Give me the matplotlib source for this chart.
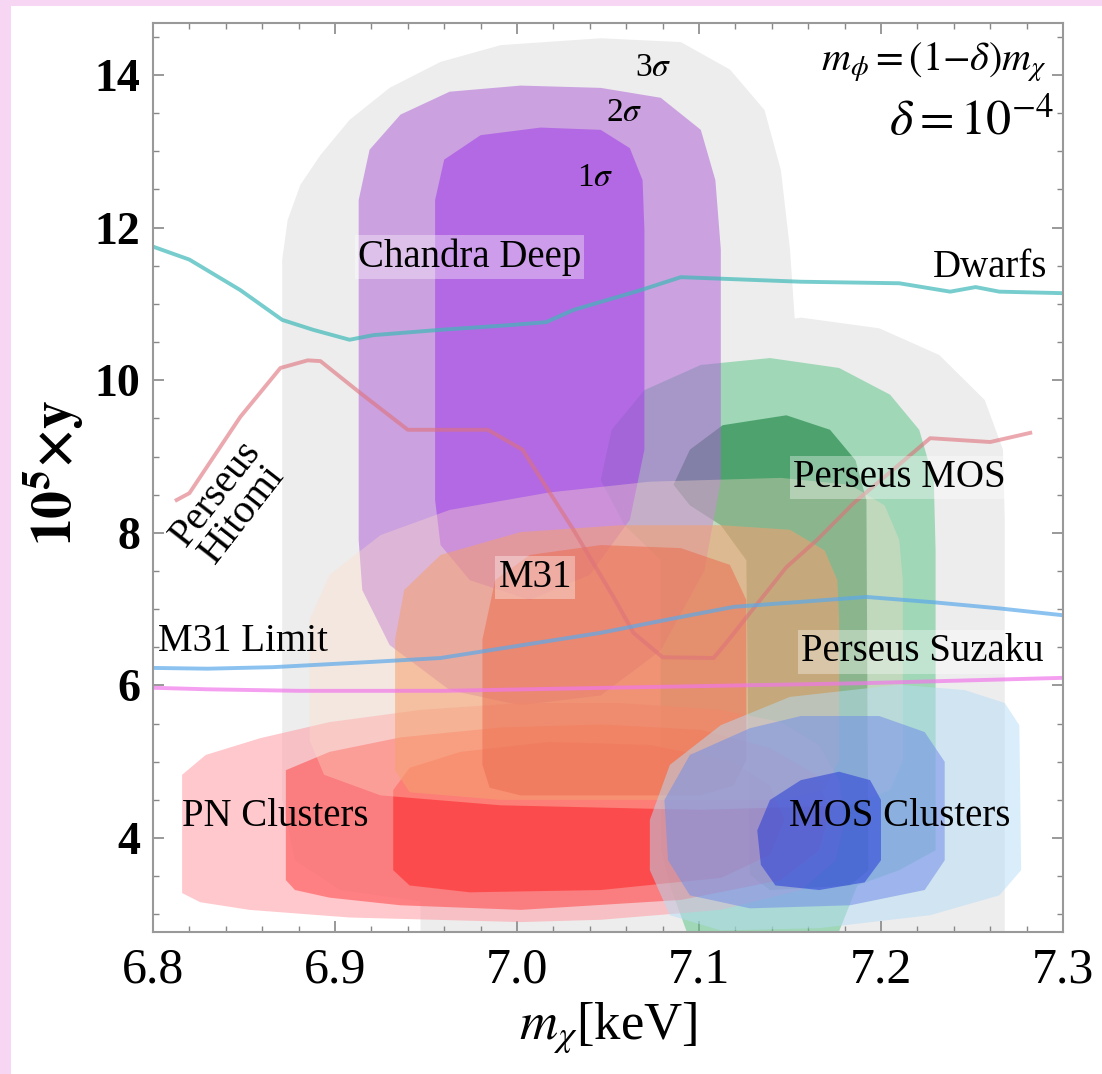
import numpy as np
import matplotlib.pyplot as plt
from matplotlib.patches import Polygon, Rectangle
from matplotlib.ticker import MultipleLocator

plt.rcParams['font.family'] = ['Liberation Serif', 'DejaVu Serif']
plt.rcParams['mathtext.fontset'] = 'stix'

# region outlines: (m_chi [keV], 1e5 * y)
chandra_3s = [(7.046, 14.48), (7.090, 14.43), (7.117, 14.07), (7.136, 13.54), (7.145, 12.75),
              (7.150, 11.71), (7.153, 10.66), (7.156, 8.43), (7.150, 6.46), (7.134, 4.76),
              (7.101, 3.71), (7.046, 3.19), (6.963, 3.12), (6.903, 3.32), (6.878, 3.71),
              (6.871, 4.50), (6.871, 11.58), (6.874, 12.10), (6.881, 12.56), (6.892, 12.95),
              (6.908, 13.41), (6.930, 13.83), (6.958, 14.17), (6.991, 14.39)]
chandra_2s = [(6.913, 12.36), (6.919, 13.02), (6.936, 13.48), (6.963, 13.78), (7.002, 13.86),
              (7.046, 13.83), (7.079, 13.70), (7.101, 13.28), (7.109, 12.62), (7.112, 11.71),
              (7.112, 8.69), (7.103, 7.51), (7.079, 6.46), (7.046, 5.87), (7.002, 5.74),
              (6.963, 5.94), (6.930, 6.53), (6.915, 7.25), (6.913, 7.91)]
chandra_1s = [(6.955, 12.36), (6.960, 12.89), (6.980, 13.21), (7.013, 13.31), (7.046, 13.28),
              (7.062, 13.04), (7.069, 12.62), (7.070, 11.97), (7.070, 9.09), (7.062, 8.17),
              (7.040, 7.45), (7.007, 7.12), (6.974, 7.38), (6.958, 7.84), (6.955, 8.43)]

perseus_3s = [(7.112, 10.66), (7.156, 10.82), (7.199, 10.68), (7.232, 10.33), (7.257, 9.74),
              (7.267, 9.09), (7.268, 8.17), (7.268, 2.40), (6.947, 2.40), (6.947, 5.81),
              (6.958, 7.12), (6.991, 8.69), (7.035, 9.74), (7.073, 10.40)]
perseus_2s = [(7.101, 10.20), (7.139, 10.29), (7.177, 10.16), (7.205, 9.81), (7.221, 9.35),
              (7.229, 8.69), (7.230, 7.77), (7.230, 3.84), (7.210, 3.58), (7.187, 3.38),
              (7.175, 2.66), (7.095, 2.66), (7.084, 3.38), (7.079, 3.84), (7.079, 7.64),
              (7.059, 8.10), (7.046, 8.69), (7.052, 9.35), (7.070, 9.87)]
perseus_1s = [(7.086, 8.63), (7.095, 9.09), (7.113, 9.41), (7.148, 9.54), (7.172, 9.35),
              (7.186, 8.95), (7.192, 8.43), (7.193, 3.58), (7.183, 3.38), (7.139, 3.32),
              (7.128, 3.52), (7.126, 7.64), (7.112, 8.10), (7.095, 8.36)]

m31_3s = [(6.886, 6.86), (6.897, 7.45), (6.925, 7.97), (6.963, 8.30), (7.018, 8.53),
          (7.073, 8.67), (7.145, 8.72), (7.183, 8.63), (7.202, 8.36), (7.210, 7.91),
          (7.212, 7.38), (7.212, 5.02), (7.205, 4.63), (7.183, 4.43), (7.101, 4.37),
          (6.991, 4.43), (6.925, 4.56), (6.894, 4.83), (6.886, 5.28)]
m31_2s = [(6.933, 6.60), (6.938, 7.25), (6.958, 7.71), (7.002, 8.01), (7.057, 8.10),
          (7.112, 8.10), (7.150, 8.04), (7.169, 7.77), (7.176, 7.38), (7.177, 6.86),
          (7.177, 5.02), (7.169, 4.63), (7.145, 4.50), (6.991, 4.50), (6.941, 4.60),
          (6.933, 4.89)]
m31_1s = [(6.981, 6.60), (6.988, 7.38), (7.007, 7.71), (7.046, 7.84), (7.090, 7.80),
          (7.117, 7.58), (7.126, 7.12), (7.126, 5.02), (7.119, 4.69), (7.101, 4.56),
          (7.002, 4.56), (6.985, 4.66), (6.981, 4.96)]

pn_3s = [(6.816, 4.83), (6.829, 5.09), (6.859, 5.31), (6.897, 5.52), (6.947, 5.68),
         (7.002, 5.77), (7.057, 5.77), (7.112, 5.68), (7.145, 5.52), (7.166, 5.22),
         (7.177, 4.76), (7.180, 4.24), (7.175, 3.71), (7.156, 3.32), (7.112, 3.06),
         (7.046, 2.93), (7.002, 2.90), (6.908, 2.96), (6.853, 3.06), (6.826, 3.16),
         (6.816, 3.28)]
pn_2s = [(6.873, 4.89), (6.897, 5.13), (6.936, 5.32), (6.991, 5.45), (7.046, 5.49),
         (7.101, 5.42), (7.139, 5.18), (7.164, 4.83), (7.172, 4.37), (7.166, 3.84),
         (7.145, 3.45), (7.090, 3.19), (7.002, 3.06), (6.936, 3.12), (6.897, 3.22),
         (6.878, 3.32), (6.873, 3.45)]
pn_1s = [(6.932, 4.63), (6.941, 4.92), (6.969, 5.13), (7.018, 5.26), (7.073, 5.22),
         (7.117, 5.02), (7.139, 4.69), (7.147, 4.24), (7.139, 3.78), (7.112, 3.48),
         (7.046, 3.32), (6.974, 3.29), (6.941, 3.38), (6.932, 3.58)]

mos_3s = [(7.073, 4.24), (7.084, 4.96), (7.112, 5.48), (7.150, 5.85), (7.210, 6.01),
          (7.246, 5.94), (7.268, 5.77), (7.276, 5.48), (7.277, 3.58), (7.265, 3.25),
          (7.227, 2.99), (7.166, 2.82), (7.112, 2.79), (7.084, 2.99), (7.073, 3.58)]
mos_2s = [(7.081, 4.50), (7.095, 5.09), (7.128, 5.44), (7.156, 5.60), (7.199, 5.60),
          (7.224, 5.39), (7.235, 5.00), (7.235, 3.71), (7.224, 3.32), (7.183, 3.12),
          (7.128, 3.08), (7.095, 3.25), (7.083, 3.71)]
mos_1s = [(7.132, 4.10), (7.139, 4.50), (7.156, 4.76), (7.177, 4.87), (7.194, 4.76),
          (7.200, 4.50), (7.200, 3.71), (7.191, 3.42), (7.166, 3.32), (7.142, 3.38),
          (7.134, 3.65)]

# limit curves
dwarfs_x = [6.800, 6.820, 6.848, 6.871, 6.888, 6.908, 6.921, 6.958, 6.995, 7.016, 7.031,
            7.068, 7.090, 7.156, 7.210, 7.238, 7.252, 7.265, 7.300]
dwarfs_y = [11.75, 11.58, 11.18, 10.79, 10.66, 10.53, 10.59, 10.66, 10.72, 10.76, 10.92,
            11.18, 11.35, 11.29, 11.27, 11.16, 11.22, 11.16, 11.14]
hitomi_x = [6.813, 6.820, 6.848, 6.870, 6.885, 6.892, 6.914, 6.940, 6.984, 7.003, 7.031,
            7.053, 7.064, 7.080, 7.108, 7.115, 7.148, 7.165, 7.185, 7.227, 7.260, 7.282]
hitomi_y = [8.43, 8.52, 9.52, 10.16, 10.26, 10.25, 9.83, 9.35, 9.35, 9.09, 8.04,
            7.16, 6.69, 6.37, 6.36, 6.56, 7.55, 7.91, 8.39, 9.24, 9.19, 9.31]
m31lim_x = [6.800, 6.830, 6.866, 6.921, 6.958, 7.046, 7.082, 7.119, 7.192, 7.229, 7.265, 7.300]
m31lim_y = [6.23, 6.22, 6.24, 6.31, 6.36, 6.69, 6.86, 7.03, 7.16, 7.09, 7.01, 6.92]
suzaku_x = [6.800, 6.830, 6.880, 6.960, 7.050, 7.190, 7.300]
suzaku_y = [5.97, 5.95, 5.93, 5.93, 5.97, 6.03, 6.10]

gray = '#ededed'
# drawing order: dataset by dataset, 3 sigma -> 1 sigma; (outline, rgb, alpha)
regions = [(perseus_2s, (96, 198, 140), 0.55), (perseus_1s, (10, 120, 50), 0.55),
           (chandra_2s, (175, 100, 215), 0.55), (chandra_1s, (160, 60, 230), 0.55),
           (pn_3s, (255, 155, 164), 0.55), (pn_2s, (255, 70, 70), 0.55), (pn_1s, (255, 35, 35), 0.55),
           (m31_3s, (255, 220, 200), 0.35), (m31_2s, (245, 160, 110), 0.55),
           (m31_1s, (235, 110, 80), 0.55),
           (mos_3s, (182, 220, 246), 0.5), (mos_2s, (115, 143, 232), 0.55),
           (mos_1s, (40, 60, 215), 0.55)]

fig = plt.figure(figsize=(11.02, 10.74), dpi=100)
fig.patch.set_facecolor('#f6d6f2')
fig.add_artist(Rectangle((11 / 1102, 0), 1, 1068 / 1074, transform=fig.transFigure,
                         facecolor='white', edgecolor='none', zorder=-10))
ax = fig.add_axes([153 / 1102, 142 / 1074, 910 / 1102, 909 / 1074])

for verts in [chandra_3s, perseus_3s]:
    ax.add_patch(Polygon(verts, closed=True, facecolor=gray, edgecolor='none', zorder=1))
for i, (verts, col, a) in enumerate(regions):
    c = tuple(v / 255 for v in col)
    ax.add_patch(Polygon(verts, closed=True, facecolor=c, edgecolor='none',
                         alpha=a, zorder=2 + i * 0.01))

ax.plot(dwarfs_x, dwarfs_y, color=(62 / 255, 184 / 255, 184 / 255), alpha=0.7, lw=2.8, zorder=6)
ax.plot(hitomi_x, hitomi_y, color=(222 / 255, 113 / 255, 122 / 255), alpha=0.6, lw=2.8, zorder=6)
ax.plot(m31lim_x, m31lim_y, color=(91 / 255, 169 / 255, 234 / 255), alpha=0.7, lw=2.8, zorder=6)
ax.plot(suzaku_x, suzaku_y, color=(241 / 255, 119 / 255, 234 / 255), alpha=0.7, lw=2.8, zorder=6)

box = dict(boxstyle='square,pad=0.08', facecolor='white', edgecolor='none', alpha=0.35)
lab = dict(fontsize=28, zorder=8, ha='center', va='center')
ax.text(6.974, 11.61, 'Chandra Deep', bbox=box, **lab)
ax.text(7.260, 11.47, 'Dwarfs', **lab)
ax.text(7.210, 8.72, 'Perseus MOS', bbox=box, **lab)
ax.text(7.010, 7.41, 'M31', bbox=box, **lab)
ax.text(7.2225, 6.44, 'Perseus Suzaku', bbox=box, **lab)
ax.text(6.803, 6.57, 'M31 Limit', fontsize=28, zorder=8, ha='left', va='center')
ax.text(6.867, 4.28, 'PN Clusters', **lab)
ax.text(7.210, 4.28, 'MOS Clusters', **lab)
ax.text(6.842, 8.38, 'Perseus\nHitomi', fontsize=29, rotation=52, linespacing=0.85,
        ha='center', va='center', zorder=8)
ax.text(7.075, 14.09, r'3$\sigma$', fontsize=24, ha='center', va='center', zorder=8)
ax.text(7.059, 13.50, r'2$\sigma$', fontsize=24, ha='center', va='center', zorder=8)
ax.text(7.043, 12.65, r'1$\sigma$', fontsize=24, ha='center', va='center', zorder=8)
ax.text(7.291, 14.17, r'$m_\phi{=}(1{-}\delta)m_\chi$', fontsize=29, ha='right', va='center', zorder=8)
ax.text(7.295, 13.38, r'$\delta{=}10^{-4}$', fontsize=36, ha='right', va='center', zorder=8)

ax.set_xlim(6.8, 7.3)
ax.set_ylim(2.77, 14.68)
ax.xaxis.set_major_locator(MultipleLocator(0.1))
ax.xaxis.set_minor_locator(MultipleLocator(0.02))
ax.yaxis.set_major_locator(MultipleLocator(2))
ax.yaxis.set_minor_locator(MultipleLocator(0.5))
ax.set_xticks([6.8, 6.9, 7.0, 7.1, 7.2, 7.3])
ax.set_xticklabels(['6.8', '6.9', '7.0', '7.1', '7.2', '7.3'])
ax.tick_params(which='both', direction='in', top=True, right=True, color='#888888')
ax.tick_params(which='major', length=8, width=1.2)
ax.tick_params(which='minor', length=4, width=1.0)
ax.tick_params(axis='x', labelsize=36, pad=11)
ax.tick_params(axis='y', labelsize=33, pad=9)
for t in ax.get_yticklabels():
    t.set_fontweight('bold')
for s in ax.spines.values():
    s.set_color('#999999')
    s.set_linewidth(1.5)
    s.set_zorder(9)

ax.set_xlabel(r'$m_\chi$[keV]', fontsize=38)
ax.xaxis.set_label_coords(0.5, -0.075)
ax.set_ylabel(r'$\mathbf{10^5{\times}y}$', fontsize=40)
ax.yaxis.set_label_coords(-0.072, 0.505)

fig.savefig('out.png', dpi=100)
